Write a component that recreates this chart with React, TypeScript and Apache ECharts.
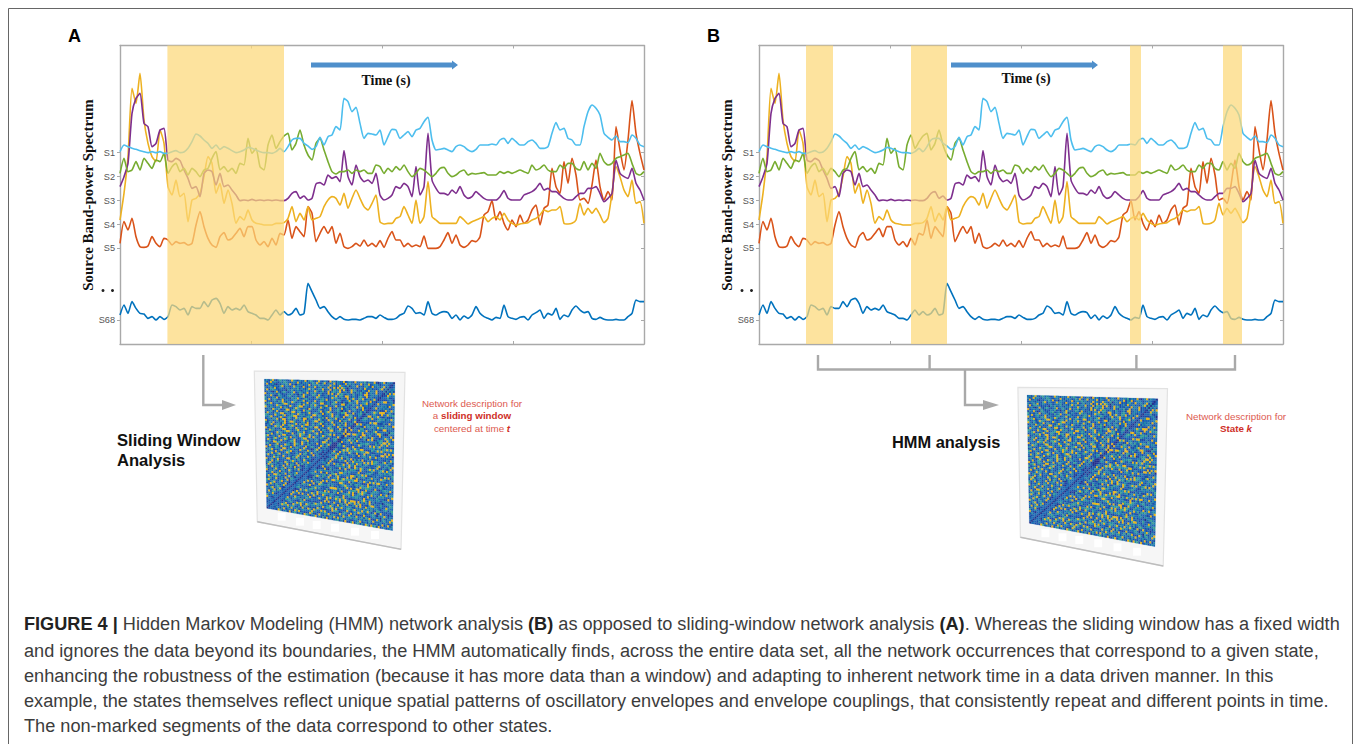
import React, { useEffect, useRef } from "react";
import * as echarts from "echarts";

// Sample positions on the time axis (132 samples per trace)
const sampleIndex: number[] = Array.from({ length: 132 }, (_, i) => i);

// Traces; larger value = lower on the page (reversed axis)
const s1Values = [365,345,350,355,358,362,365,368,365,368,365,370,370,365,362,368,366,355,335,312,318,330,340,355,345,358,350,355,362,368,365,360,352,355,360,365,368,368,370,365,355,365,350,330,325,325,340,348,358,350,322,345,320,315,290,300,205,215,245,232,280,325,310,
312,315,300,345,320,298,300,325,315,305,320,300,295,275,262,330,360,358,355,360,365,350,345,350,360,365,358,345,345,345,342,345,330,325,340,325,335,345,345,335,330,340,355,355,350,310,278,300,295,325,330,345,345,290,245,225,235,255,310,322,330,318,335,335,338,315,325,345,350];
const s2Values = [430,385,425,420,395,420,385,400,415,390,395,370,430,410,400,425,415,435,415,425,440,420,415,385,365,420,410,425,415,430,400,405,325,370,355,410,420,345,315,355,335,318,310,360,340,300,345,375,390,340,325,360,395,425,432,425,425,420,430,420,425,420,430,
430,405,410,430,415,425,410,420,405,425,440,430,415,420,430,440,430,415,412,430,440,435,425,420,435,430,432,430,428,435,435,435,425,430,425,430,425,420,425,430,405,420,415,405,420,425,425,405,415,400,400,415,420,395,420,400,415,370,395,405,400,385,380,375,370,400,430,435,425];
const s3Values = [470,440,400,250,205,190,280,290,350,340,300,295,390,395,385,392,420,445,475,470,500,430,420,425,465,430,470,465,480,495,512,510,512,508,512,510,512,510,512,510,512,512,505,490,485,505,498,510,505,462,458,465,435,445,440,455,362,440,465,405,440,455,450,
460,430,495,510,505,495,470,475,460,470,500,410,495,470,310,450,475,490,490,495,480,490,470,495,505,500,485,495,505,510,510,510,500,482,505,510,510,510,495,490,485,475,460,480,475,485,485,495,505,510,510,500,490,490,475,475,470,490,515,505,490,390,430,440,445,415,460,480,510];
const s4Values = [570,490,380,175,220,130,270,340,380,395,300,340,470,495,450,500,490,575,510,505,490,440,380,400,490,460,520,480,520,580,560,570,540,570,580,582,585,585,585,580,580,578,565,530,575,550,570,530,570,565,560,530,510,500,505,525,490,535,505,480,505,530,540,
520,495,575,582,580,580,565,560,530,555,580,510,580,560,455,560,570,580,580,580,580,580,560,570,582,575,570,565,560,575,565,560,570,550,570,580,585,582,580,578,570,565,555,540,545,540,540,530,580,582,580,570,520,555,535,550,535,555,578,565,490,410,440,480,500,450,520,515,580];
const s5Values = [640,575,600,565,620,650,652,648,620,640,650,625,630,645,635,640,638,645,640,585,545,590,625,645,652,620,608,630,625,610,595,620,590,590,630,645,635,650,625,645,610,615,570,625,590,605,620,530,550,635,610,590,610,590,640,610,650,655,650,640,648,630,648,
640,650,632,652,625,605,630,630,650,640,650,645,650,618,655,655,655,650,630,608,640,615,645,652,645,632,635,620,555,545,512,570,545,580,600,570,590,555,580,570,540,525,585,535,525,415,470,490,395,460,385,435,510,505,520,465,390,470,510,485,510,290,360,420,330,212,310,370,420];
const s68Values = [855,825,850,815,835,850,852,865,860,870,860,868,860,825,830,840,835,855,830,835,835,815,830,810,805,820,850,830,840,835,840,825,845,850,855,865,865,870,855,840,855,845,855,850,835,855,850,760,785,810,835,830,845,860,868,860,868,870,868,868,870,865,860,
860,865,855,862,868,868,865,855,850,828,835,850,848,855,815,850,855,848,845,848,865,855,870,858,865,855,830,850,860,865,870,862,865,825,860,865,868,862,860,870,855,848,840,865,850,855,835,868,855,860,840,828,840,848,845,865,868,862,868,870,870,868,870,870,860,850,810,815,815];

const traceNames = ["S68", "S5", "S4", "S3", "S2", "S1"];
const traceColors = ["#0072BD", "#D95319", "#EDB120", "#7E2F8E", "#77AC30", "#4DBEEE"];
const traceValues = [s68Values, s5Values, s4Values, s3Values, s2Values, s1Values];

// Axis ticks
const rowTicks = [368, 440, 512, 584, 655, 870];
const rowLabels = ["S1", "S2", "S3", "S4", "S5", "S68"];

// Highlighted time windows [start, end] in samples
const bandsA = [[11.85, 41]];
const bandsB = [[11.75, 18.5], [38, 47], [92.75, 95.5], [116, 120.75]];

// Connectivity matrix (68 regions), the part above its dark anti-diagonal,
// estimated from the picture: . navy  d dark blue  b blue  t teal  g green-teal  y yellow
const connectivityRows = [
"btdtybdtgb tbdbytbdtb bydtgbdbyb dtb.ybtdtb bydbtbdybb tbgdtbbyd. btydtbb",
"tdbybtbdtb gtbdbtbybd tbtdbgbybd tydtbbydtb dbybgbtdbb ydtbydbttb dbbtbd",
"bydbtd.bdt bgbydb.tbt dbbydttbgb tdbbybtdby tbdg.btbyd bdtgbdybbt dtydt",
"dbtbdtbdgy dtbdbyttbd ybdtbbydbg dtbydbydyb ygb.tdbbdb tdybbtdbdb gydt",
"tdbgbydbtb dbtdbtbgdt bdtybgdbtb ydbbydgtby dyb.bytgdb dtbdybtbyd bdt",
"bydtgtbdbd b.tbgdbtbd tbgdbbytdb gdbydtgbty dbtdbybdtb gdbydtbbyd bdt",
"dbtd.bybdt gbdbtydbgt dbydtbgdbt dbdybydbyt gbdtbdgbdb tdyydbtbtd b.",
"ydbtbtdgbd bdtbgdb.td ytbdbgtdyb dbtdbtbydg tdyybdtbdt gbdydtbdb d.",
"dtbyb.dgtb dbtgdbtdbg yddtbdbygb tdbdbytgbd tbdydtybdg tydbtdtyb .",
"gdbdtbydtb tdbdgbtybd bgtdbdbtdt gbydbtdbgt ddbtydbgyb dtbgdydb .",
"tbydtgbdby dtbdbtgdbt ydbtdbydbg tdbtdbgydb .tddgtbbyd btgydtbd",
"ydbdbtdgty bdtbygdbtd tbydbgtdby ydbtdgtbdb yydtbdgbtd ydbtdb.",
"dtgydbtdbg yytdbdbtgd ybtdgbytdb dgydbdtydb tdgbdtbdyb tydbdb",
"gdbtdbygtd bdbytdbgyy dtbdtbgdby tdbtydbdgb ydbtdbgtdb dybd.",
"ytdgbdtbyd gtdbdtygbd tbdytdbdgb dtbdydbtgb .tdbydbtdb gdtb",
"dbtdytbgdb dyydtgdtbd ybgtdbdbty dbgytdbdtb ggydbdydbt gdb",
"tdbgdbydbd tgdbyydtgd bdtydbgtdb ydtbgydbtd bdyytgdbdt bd",
"dytbdgbtyy dbtdgbdytb gdbtdyybgt dbdbtydgtb dydbtgdydb d",
"gtdbdytbdg ydbtgyydbt dbgtydbdtb gdydtbtydb gdbtydbgd b",
"tbgydbdtyb dbgtdbytgd yydtbdgbyt dbdygtdbdy dtgdbdtyd",
"dbtdgtydby ydtbdgbdtb ydgdbtyydt gdbdtydbtd gdydbtd.",
"ydbtdbgdtb ydtyygdbdt gdydbtdbgy dbtdbtydbg dtydbdt",
"tdgbydbtdg ydbdbtydgd tyydbgdtbd ydbtgdbdyb tdbdyb",
"dbtydbgtdy bdggytdbdy tdbtgdyydt bdbytgdbdy t.ybd",
"dtbdbygtyd tbdgbdytbd gytdbdtbyd gtdbyydbtg dbyt",
"ydtbgdbdty ydbtdbgydb tdbtgydbdy dtbdgbtdbd tyb",
"dbygtdbtdb gyytdbdgtb ydbtdbgydt dbtgydydbt db",
"tgdbdbytgd btdbydbtyg gdbytdbtdb ygdbtdbdyb t",
"dbtydbgdty ydbdtgdbyt dbgydytdbg tdbydbtg.",
"gydbtdbydb tgdydbtdbg yydbtdtgdb dtydbdtb",
"tdbdgytdbt ygdbtydbdt bgydbdtbdb yytdgd.",
"bytdgbdbyd tdbgtydbdy tdgdtbdydb gdtyb.",
"dbtdyytgdb dbtdbygtdy bdgtdbdbdy tdgd.",
"tgdbdtydbd ygtdbydbtb dydbgtdbyd btd",
"dbydbgtdyb tdbydbgtdb ytdb.dgyd td",
"ydtbdgtbdy ydtbgdbdyt bdytdbgdtb .",
"dtgydbdtyb dtgydbtdbd bgdtydbtd.",
"gdbtdybdbd tygdbdtbyd gtdbdydt",
"dbtydbgydt bdtbdbgydt dbytdbd",
"tydbgdtbdy bdtdgbytdb gdbtd.",
"dbdbytgdbt dyydbtdgbd ytdb.",
"ydtgdbydbd tdbgytdbtd gbyt",
"tdbydtgdbd ygdbtdydbg dtb",
"bgydbtdbtd bydgtdbyd.dt",
"dytgdbtdby dtbgdydbtd d",
"tdbydgbdtb ydtbdgbyd.",
"gdbdtybdgt dbytdbdtb",
"ydtbgdbydt bdgdbtyd",
"dbtydbgdtb ydbtdgb",
"tdbdyytgdb dtydb.",
"bydtbgdbtd ybdgt",
"dtgdbydbtd bydt",
"gybdtbdgyd tb.",
"tdbgydbtdb y.",
"dbytdgbdty b",
"ytdbdtgbd.",
"dbgydbtyd",
"tdbtydgb",
"bydgtbd",
"dtbyd.",
"gdbtb",
"ybd.",
"dtb",
"bd",
"d",
];
const cellColors: Record<string, string> = { ".": "#24308c", d: "#1c4aa6", b: "#1b68b2", t: "#2288a6", g: "#3aa18f", y: "#e9b616" };

const captionLines = [
  "{b|FIGURE 4 |} Hidden Markov Modeling (HMM) network analysis {b|(B)} as opposed to sliding-window network analysis {b|(A)}. Whereas the sliding window has a fixed width",
  "and ignores the data beyond its boundaries, the HMM automatically finds, across the entire data set, all the network occurrences that correspond to a given state,",
  "enhancing the robustness of the estimation (because it has more data than a window) and adapting to inherent network time in a data driven manner. In this",
  "example, the states themselves reflect unique spatial patterns of oscillatory envelopes and envelope couplings, that consistently repeat and different points in time.",
  "The non-marked segments of the data correspond to other states.",
];

type Pt = [number, number];
const SANS = "'Liberation Sans', Arial, sans-serif";
const SERIF = "'Liberation Serif', 'Times New Roman', serif";
const GREY = "#a9a9a9";
const N = 68;

// The matrix is symmetric about its anti-diagonal; rows list the part above it.
const rowsClean = connectivityRows.map((r) => r.replace(/ /g, ""));
function cellCode(r: number, c: number): string {
  if (r + c === N - 1) return ".";
  const [rr, cc] = r + c < N - 1 ? [r, c] : [N - 1 - c, N - 1 - r];
  return rowsClean[rr]?.[cc] ?? "b";
}

function matrixSeries(q: [Pt, Pt, Pt, Pt]) {
  const data: any[] = [];
  for (let r = 0; r < N; r++) for (let c = 0; c < N; c++) data.push([c, r]);
  const at = (u: number, v: number): Pt => {
    const tx = q[0][0] + (q[1][0] - q[0][0]) * u;
    const ty = q[0][1] + (q[1][1] - q[0][1]) * u;
    const bx = q[3][0] + (q[2][0] - q[3][0]) * u;
    const by = q[3][1] + (q[2][1] - q[3][1]) * u;
    return [tx + (bx - tx) * v, ty + (by - ty) * v];
  };
  return {
    type: "custom",
    coordinateSystem: "none",
    silent: true,
    data,
    renderItem: (_p: any, api: any) => {
      const col = api.value(0);
      const row = api.value(1);
      const fill = cellColors[cellCode(row, col)] || cellColors.b;
      return {
        type: "polygon",
        shape: { points: [at(col / N, row / N), at((col + 1) / N, row / N), at((col + 1) / N, (row + 1) / N), at(col / N, (row + 1) / N)] },
        style: { fill, stroke: fill, lineWidth: 0.15 },
      };
    },
  };
}

const text = (x: number, y: number, t: string, font: any, extra: any = {}) => ({
  type: "text", x, y, silent: true,
  style: { text: t, fill: "#111", verticalAlign: "middle", align: "left", fontFamily: SANS, ...font },
  ...extra,
});

function photoFrame(q: [Pt, Pt, Pt, Pt], squares: Pt[]) {
  return [
    { type: "polygon", silent: true, shape: { points: q }, style: { fill: "#f6f6f6", stroke: "#e2e2e2", lineWidth: 1.2 } },
    { type: "line", silent: true, shape: { x1: q[3][0], y1: q[3][1], x2: q[2][0], y2: q[2][1] }, style: { stroke: "#bdbdbd", lineWidth: 1.4 } },
    ...squares.map(([x, y]) => ({ type: "rect", silent: true, shape: { x: x - 4, y: y - 4, width: 8, height: 8 }, style: { fill: "#ffffff" } })),
  ];
}

function elbowArrow(pts: Pt[], tip: number) {
  const last = pts[pts.length - 1];
  return [
    { type: "polyline", silent: true, shape: { points: pts }, style: { stroke: GREY, lineWidth: 2.4, fill: "none" } },
    { type: "polygon", silent: true, shape: { points: [[last[0], last[1] - 5], [tip, last[1]], [last[0], last[1] + 5]] }, style: { fill: GREY } },
  ];
}

function timeArrow(x0: number, x1: number) {
  return {
    type: "polygon", silent: true,
    shape: { points: [[x0, 62.5], [x1 - 6, 62.5], [x1 - 6, 60.5], [x1, 65], [x1 - 6, 69.5], [x1 - 6, 67.5], [x0, 67.5]] },
    style: { fill: "#4f8fcb" },
  };
}

const graphics: any[] = [
  { type: "polyline", silent: true, shape: { points: [[8.5, 744], [8.5, 8.5], [1352.5, 8.5], [1352.5, 744]] }, style: { stroke: "#666", lineWidth: 1, fill: "none" } },
  text(68, 36, "A", { fontSize: 18, fontWeight: "bold", fill: "#000" }),
  text(707, 36, "B", { fontSize: 18, fontWeight: "bold", fill: "#000" }),
  timeArrow(311, 458),
  timeArrow(951, 1098),
  text(386, 80, "Time (s)", { fontFamily: SERIF, fontSize: 14, fontWeight: "bold", align: "center" }),
  text(1026, 78.5, "Time (s)", { fontFamily: SERIF, fontSize: 14, fontWeight: "bold", align: "center" }),
  text(0, 0, "Source Band-power Spectrum", { fontFamily: SERIF, fontSize: 14.9, fontWeight: "bold", align: "center" }, { x: 88, y: 195, rotation: Math.PI / 2 }),
  text(0, 0, "Source Band-power Spectrum", { fontFamily: SERIF, fontSize: 14.9, fontWeight: "bold", align: "center" }, { x: 727, y: 195, rotation: Math.PI / 2 }),
  ...[[103, 290.5], [112.5, 290.5], [742, 290.5], [751.5, 290.5]].map(([cx, cy]) => ({ type: "circle", silent: true, shape: { cx, cy, r: 1.5 }, style: { fill: "#222" } })),
  ...elbowArrow([[203.3, 355], [203.3, 405], [222, 405]], 236),
  ...elbowArrow([[965, 370], [965, 405], [983, 405]], 999),
  { type: "polyline", silent: true, shape: { points: [[818, 355], [818, 369.5], [1235, 369.5], [1235, 355]] }, style: { stroke: GREY, lineWidth: 2.4, fill: "none" } },
  { type: "line", silent: true, shape: { x1: 929.6, y1: 355, x2: 929.6, y2: 369.5 }, style: { stroke: GREY, lineWidth: 2.4 } },
  { type: "line", silent: true, shape: { x1: 1136.4, y1: 355, x2: 1136.4, y2: 369.5 }, style: { stroke: GREY, lineWidth: 2.4 } },
  ...photoFrame([[254.3, 371], [405, 372.3], [401, 549.3], [257.3, 521.7]], [[281.7, 516.7], [300, 521.7], [316.7, 525], [335, 527.7], [355, 531.7], [375, 535]]),
  ...photoFrame([[1017.9, 387.3], [1167.5, 388.7], [1163.2, 566], [1020.4, 537.3]], [[1045.4, 533.3], [1062.5, 537.3], [1079.3, 540], [1098.2, 543.3], [1117.5, 547.3], [1137.1, 551.7]]),
  text(117, 440, "Sliding Window", { fontSize: 16.6, fontWeight: "bold" }),
  text(117, 460, "Analysis", { fontSize: 16.6, fontWeight: "bold" }),
  text(892, 441.5, "HMM analysis", { fontSize: 16.4, fontWeight: "bold" }),
  text(472, 403, "Network description for", { fontSize: 9.8, fill: "#dd5a50", align: "center" }),
  text(472, 415.5, "a {r|sliding window}", { fontSize: 9.8, fill: "#dd5a50", align: "center", rich: { r: { fontSize: 9.8, fontWeight: "bold", fill: "#cf2f28", fontFamily: SANS } } }),
  text(472, 428, "centered at time {r|t}", { fontSize: 9.8, fill: "#dd5a50", align: "center", rich: { r: { fontSize: 9.8, fontWeight: "bold", fontStyle: "italic", fill: "#cf2f28", fontFamily: SANS } } }),
  text(1236, 416, "Network description for", { fontSize: 9.8, fill: "#dd5a50", align: "center" }),
  text(1236, 428.7, "{r|State }{q|k}", { fontSize: 9.8, fill: "#cf2f28", align: "center", rich: { r: { fontSize: 9.8, fontWeight: "bold", fill: "#cf2f28", fontFamily: SANS }, q: { fontSize: 9.8, fontWeight: "bold", fontStyle: "italic", fill: "#cf2f28", fontFamily: SANS } } }),
  ...captionLines.map((line, i) =>
    text(24, [624, 650.5, 676, 701, 726][i], line, { fontSize: 18.15, fill: "#3c3c3c", rich: { b: { fontSize: 18.15, fontWeight: "bold", fill: "#222", fontFamily: SANS } } })
  ),
];

function plotParts(gridIndex: number, left: number, bands: number[][]) {
  const axisLine = { show: true, onZero: false, lineStyle: { color: GREY, width: 1.4 } };
  const tickStyle = { show: true, inside: true, length: 3, lineStyle: { color: GREY, width: 1 } };
  const xBase = { type: "value", gridIndex, min: 0, max: 131, interval: 32.75, splitLine: { show: false }, axisLabel: { show: false }, axisLine, axisTick: tickStyle };
  const yBase = { type: "value", gridIndex, min: 46.5, max: 942, inverse: true, splitLine: { show: false }, axisLine };
  const xIdx = gridIndex * 2;
  const yIdx = gridIndex * 2;
  return {
    grid: { left, top: 45.5, width: 524, height: 298.5 },
    xAxis: [{ ...xBase, position: "bottom" }, { ...xBase, position: "top" }],
    yAxis: [
      {
        ...yBase, position: "left",
        axisTick: { ...tickStyle, inside: false, customValues: rowTicks },
        axisLabel: {
          show: true, customValues: rowTicks, margin: 5, fontSize: 9.2, color: "#555", fontFamily: SANS,
          formatter: (v: number) => rowLabels[rowTicks.indexOf(v)] ?? "",
        },
      },
      { ...yBase, position: "right", axisLabel: { show: false }, axisTick: { ...tickStyle, customValues: rowTicks } },
    ],
    series: traceValues.map((vals, k) => ({
      type: "line",
      name: `${traceNames[k]} ${gridIndex ? "B" : "A"}`,
      xAxisIndex: xIdx,
      yAxisIndex: yIdx,
      data: vals.map((v, i) => [sampleIndex[i], v]),
      symbol: "none",
      smooth: 0.2,
      z: 2,
      lineStyle: { color: traceColors[k], width: 1.6 },
      markArea: k === 0 ? {
        silent: true,
        z: 10,
        itemStyle: { color: "rgba(252,216,120,0.72)" },
        data: bands.map(([a, b]) => [{ xAxis: a, yAxis: 46.5 }, { xAxis: b, yAxis: 942 }]),
      } : undefined,
    })),
  };
}

export default function App() {
  const ref = useRef<HTMLDivElement>(null);
  useEffect(() => {
    document.body.style.margin = "0";
    const chart = echarts.init(ref.current!, undefined, { renderer: "svg" });
    const a = plotParts(0, 120, bandsA);
    const b = plotParts(1, 759, bandsB);
    chart.setOption({
      animation: false,
      backgroundColor: "#ffffff",
      textStyle: { fontFamily: SANS },
      grid: [a.grid, b.grid],
      xAxis: [...a.xAxis, ...b.xAxis],
      yAxis: [...a.yAxis, ...b.yAxis],
      graphic: { elements: graphics },
      series: [
        ...a.series,
        ...b.series,
        matrixSeries([[264.3, 379], [395, 382.3], [392.7, 530.7], [266.7, 508.3]]),
        matrixSeries([[1027, 395], [1157.9, 398.7], [1155, 546.7], [1029.3, 523.3]]),
      ],
    });
    return () => chart.dispose();
  }, []);
  return <div ref={ref} style={{ position: "absolute", left: 0, top: 0, width: 1358, height: 744 }} />;
}
